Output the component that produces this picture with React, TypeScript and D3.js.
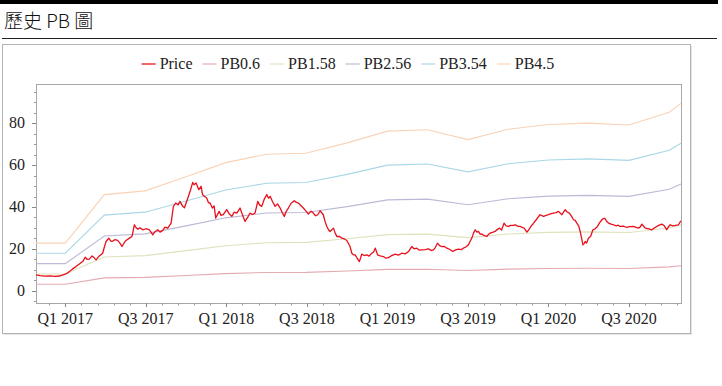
import React from "react";
import * as d3 from "d3";

// ---------- data ----------
const titleText = "歷史 PB 圖";
const seriesNames = ["Price", "PB0.6", "PB1.58", "PB2.56", "PB3.54", "PB4.5"];
const pbMultiples = [0.6, 1.58, 2.56, 3.54, 4.5];
const seriesColors = ["#e8101c", "#e4aab2", "#dfe2bd", "#babad6", "#a9d7e6", "#f8d3b7"];

// book value per share (quarterly breakpoints, decimal year)
const bvpsDates = [2016.818, 2017.0, 2017.242, 2017.495, 2017.75, 2017.996, 2018.25, 2018.493, 2018.75, 2019.0, 2019.25, 2019.5, 2019.75, 2020.0, 2020.25, 2020.5, 2020.75, 2020.823];
const bvpsValues = [5.05, 5.05, 10.2, 10.6, 12.1, 13.6, 14.5, 14.6, 15.7, 16.95, 17.1, 16.05, 17.15, 17.65, 17.8, 17.6, 18.95, 19.9];

// price (decimal year, value)
const priceDates = [
  2016.818, 2016.843, 2016.874, 2016.905, 2016.936, 2016.963, 2016.986, 2017.004, 2017.025, 2017.045,
  2017.066, 2017.085, 2017.108, 2017.124, 2017.135, 2017.149, 2017.166, 2017.178, 2017.191, 2017.211,
  2017.232, 2017.243, 2017.253, 2017.270, 2017.281, 2017.290, 2017.309, 2017.325, 2017.340, 2017.352,
  2017.365, 2017.377, 2017.398, 2017.414, 2017.429, 2017.439, 2017.450, 2017.464, 2017.481, 2017.501,
  2017.522, 2017.532, 2017.543, 2017.557, 2017.574, 2017.588, 2017.605, 2017.619, 2017.636, 2017.657,
  2017.671, 2017.686, 2017.701, 2017.712, 2017.729, 2017.740, 2017.750, 2017.762, 2017.775, 2017.791,
  2017.799, 2017.812, 2017.829, 2017.843, 2017.852, 2017.863, 2017.878, 2017.889, 2017.899, 2017.913,
  2017.924, 2017.934, 2017.955, 2017.967, 2017.981, 2018.002, 2018.017, 2018.034, 2018.048, 2018.065,
  2018.085, 2018.101, 2018.116, 2018.132, 2018.147, 2018.163, 2018.178, 2018.195, 2018.206, 2018.220,
  2018.234, 2018.251, 2018.262, 2018.272, 2018.287, 2018.303, 2018.318, 2018.334, 2018.346, 2018.360,
  2018.371, 2018.385, 2018.402, 2018.422, 2018.435, 2018.447, 2018.464, 2018.478, 2018.495, 2018.509,
  2018.526, 2018.540, 2018.554, 2018.568, 2018.582, 2018.602, 2018.613, 2018.624, 2018.635, 2018.644,
  2018.665, 2018.676, 2018.686, 2018.700, 2018.717, 2018.731, 2018.748, 2018.768, 2018.779, 2018.789,
  2018.800, 2018.812, 2018.826, 2018.841, 2018.855, 2018.872, 2018.886, 2018.903, 2018.914, 2018.925,
  2018.939, 2018.955, 2018.975, 2018.989, 2019.006, 2019.023, 2019.048, 2019.068, 2019.089, 2019.110,
  2019.131, 2019.151, 2019.166, 2019.182, 2019.197, 2019.214, 2019.234, 2019.255, 2019.272, 2019.286,
  2019.296, 2019.311, 2019.324, 2019.338, 2019.352, 2019.369, 2019.386, 2019.406, 2019.423, 2019.441,
  2019.458, 2019.472, 2019.489, 2019.503, 2019.513, 2019.524, 2019.535, 2019.545, 2019.556, 2019.565,
  2019.576, 2019.586, 2019.601, 2019.617, 2019.629, 2019.638, 2019.653, 2019.669, 2019.681, 2019.696,
  2019.709, 2019.724, 2019.737, 2019.752, 2019.765, 2019.783, 2019.793, 2019.812, 2019.825, 2019.837,
  2019.849, 2019.866, 2019.877, 2019.891, 2019.905, 2019.924, 2019.936, 2019.948, 2019.969, 2019.986,
  2020.000, 2020.017, 2020.031, 2020.048, 2020.062, 2020.083, 2020.104, 2020.116, 2020.130, 2020.144,
  2020.155, 2020.166, 2020.176, 2020.188, 2020.197, 2020.206, 2020.214, 2020.222, 2020.228, 2020.237,
  2020.248, 2020.262, 2020.276, 2020.290, 2020.304, 2020.318, 2020.332, 2020.343, 2020.352, 2020.361,
  2020.373, 2020.389, 2020.404, 2020.420, 2020.433, 2020.445, 2020.464, 2020.487, 2020.504, 2020.528,
  2020.545, 2020.559, 2020.570, 2020.580, 2020.591, 2020.601, 2020.619, 2020.642, 2020.657, 2020.673,
  2020.688, 2020.704, 2020.719, 2020.735, 2020.743, 2020.756, 2020.771, 2020.787, 2020.807, 2020.822,
];
const priceValues = [
  7.6, 7.2, 6.9, 7.1, 6.8, 7.0, 7.6, 8.0, 9.1, 10.4,
  11.5, 12.6, 13.9, 16.0, 15.0, 15.1, 16.6, 15.8, 14.7, 16.6,
  17.9, 21.0, 23.5, 25.1, 23.8, 23.5, 24.4, 24.0, 22.6, 21.1,
  22.8, 24.0, 25.1, 25.9, 31.5, 30.2, 29.4, 30.0, 29.1, 29.6,
  29.1, 28.0, 26.7, 28.2, 29.1, 28.0, 28.8, 30.4, 29.9, 32.3,
  40.3, 41.9, 41.0, 42.7, 40.3, 39.6, 41.9, 44.5, 47.5, 51.8,
  50.6, 51.5, 48.3, 49.9, 46.0, 45.1, 44.3, 42.0, 41.9, 39.5,
  40.5, 34.7, 37.9, 36.0, 36.3, 38.7, 36.8, 35.5, 37.5, 37.1,
  39.5, 36.0, 33.1, 35.0, 37.1, 36.4, 37.1, 42.7, 41.0, 40.3,
  43.5, 45.9, 44.2, 45.1, 42.5, 40.3, 41.5, 39.5, 37.5, 35.5,
  37.8, 39.5, 41.8, 43.0, 42.2, 41.9, 40.6, 39.5, 38.0, 36.6,
  38.0, 37.1, 35.8, 36.3, 38.2, 36.3, 33.0, 30.7, 29.0, 28.3,
  29.9, 27.5, 25.9, 26.0, 25.1, 24.8, 24.0, 21.1, 17.9, 17.1,
  17.1, 15.5, 13.9, 17.5, 16.8, 17.1, 16.5, 17.9, 18.5, 20.3,
  17.1, 16.6, 16.3, 15.6, 15.8, 16.6, 17.5, 17.0, 17.9, 17.6,
  18.7, 21.1, 20.0, 20.3, 19.4, 19.5, 19.6, 20.0, 19.2, 19.5,
  20.5, 22.7, 21.5, 21.1, 21.2, 20.3, 19.8, 18.7, 19.5, 19.9,
  19.6, 20.3, 21.0, 21.9, 23.5, 25.1, 27.5, 29.1, 28.0, 28.3,
  27.0, 27.1, 26.3, 25.9, 27.0, 27.5, 27.9, 28.3, 29.2, 29.9,
  29.0, 32.3, 31.0, 30.7, 31.2, 31.2, 31.5, 30.7, 30.7, 30.2,
  29.9, 28.0, 29.0, 30.7, 32.0, 33.9, 35.2, 36.3, 35.5, 36.0,
  36.3, 36.8, 37.1, 37.3, 37.9, 36.3, 38.7, 37.6, 37.1, 35.5,
  33.9, 33.6, 32.3, 31.0, 28.3, 25.0, 21.9, 22.5, 23.5, 22.8,
  25.1, 26.0, 29.1, 29.6, 30.7, 32.5, 33.9, 34.6, 34.4, 33.2,
  32.3, 31.8, 31.5, 31.0, 31.3, 30.7, 30.9, 30.2, 30.6, 30.7,
  30.3, 29.9, 30.5, 31.8, 30.8, 29.9, 29.6, 29.1, 30.0, 30.7,
  31.3, 31.8, 31.0, 29.1, 30.3, 31.5, 31.0, 31.2, 31.5, 33.4,
];

const xDomain = [2016.818, 2020.823];
const yDomain = [-5.9, 98.8];
const yTickValues = [0, 20, 40, 60, 80];
const xTickValues = [2017.0, 2017.5, 2018.0, 2018.5, 2019.0, 2019.5, 2020.0, 2020.5];
const xTickLabels = ["Q1 2017", "Q3 2017", "Q1 2018", "Q3 2018", "Q1 2019", "Q3 2019", "Q1 2020", "Q3 2020"];

// ---------- layout ----------
const W = 722;
const H = 386;
const plot = { left: 36, right: 681, top: 84, bottom: 303 };
const SERIF = "'Liberation Serif', 'Times New Roman', serif";

function measure(text: string, font: string): number {
  if (typeof document === "undefined") return text.length * 8;
  const c = document.createElement("canvas");
  const ctx = c.getContext("2d");
  if (!ctx) return text.length * 8;
  ctx.font = font;
  return ctx.measureText(text).width;
}

export default function App() {
  const x = d3.scaleLinear().domain(xDomain).range([plot.left, plot.right]);
  const y = d3.scaleLinear().domain(yDomain).range([plot.bottom, plot.top]);

  const line = d3
    .line<[number, number]>()
    .x((d) => x(d[0]))
    .y((d) => y(d[1]));

  const pricePts: [number, number][] = priceDates.map((t, i) => [t, priceValues[i]]);
  const pbPaths = pbMultiples.map((m) =>
    line(bvpsDates.map((t, i) => [t, bvpsValues[i] * m] as [number, number]))
  );

  const yMinor = d3.range(-5, 99, 5).filter((v) => !yTickValues.includes(v));
  const xMinor = d3
    .range(0, 40)
    .map((i) => 2016.9 + i * 0.1)
    .filter((t) => t <= xDomain[1] && !xTickValues.some((v) => Math.abs(v - t) < 1e-6));

  // legend layout
  const legendFont = `16px ${SERIF}`;
  const sw = 14;
  const gapText = 4;
  const gapItem = 10;
  const widths = seriesNames.map((n) => measure(n, legendFont));
  const total = widths.reduce((a, b) => a + b, 0) + seriesNames.length * (sw + gapText) + (seriesNames.length - 1) * gapItem;
  let cursor = 348 - total / 2;
  const legendItems = seriesNames.map((n, i) => {
    const x0 = cursor;
    cursor += sw + gapText + widths[i] + gapItem;
    return { n, x0, color: seriesColors[i] };
  });
  const legendY = 64;

  return (
    <svg
      width={W}
      height={H}
      style={{ position: "absolute", left: 0, top: 0, display: "block", background: "#fff" }}
    >
      {/* header */}
      <rect x={0} y={0} width={718} height={4} fill="#000" />
      <text
        x={4}
        y={28}
        fontFamily="'Noto Sans CJK TC', 'Noto Sans', sans-serif"
        fontSize={19}
        fontWeight={300}
        fill="#111"
      >
        {titleText}
      </text>
      <line x1={2} x2={717} y1={38.5} y2={38.5} stroke="#222" strokeWidth={1} />

      {/* outer frame */}
      <rect x={2.5} y={44.5} width={688} height={289} fill="#fff" stroke="#b4b4b4" strokeWidth={1} />
      <line x1={691.5} x2={691.5} y1={46} y2={335} stroke="#e4e4e4" />
      <line x1={4} x2={691.5} y1={334.5} y2={334.5} stroke="#e4e4e4" />

      {/* legend */}
      {legendItems.map((it) => (
        <g key={it.n}>
          <line
            x1={it.x0}
            x2={it.x0 + sw}
            y1={legendY}
            y2={legendY}
            stroke={it.color}
            strokeWidth={it.n === "Price" ? 1.3 : 1.2}
          />
          <text
            x={it.x0 + sw + gapText}
            y={legendY + 5}
            fontFamily={SERIF}
            fontSize={16}
            fill="#222"
          >
            {it.n}
          </text>
        </g>
      ))}

      {/* plot frame */}
      <rect
        x={plot.left + 0.5}
        y={plot.top + 0.5}
        width={plot.right - plot.left}
        height={plot.bottom - plot.top}
        fill="#fff"
        stroke="#a8a8a8"
        strokeWidth={1}
      />

      {/* y ticks */}
      {yTickValues.map((v) => (
        <g key={"y" + v}>
          <line x1={plot.left - 4} x2={plot.left} y1={Math.round(y(v)) + 0.5} y2={Math.round(y(v)) + 0.5} stroke="#888" />
          <text x={25} y={y(v) + 5} textAnchor="end" fontFamily={SERIF} fontSize={16} fill="#222">
            {v}
          </text>
        </g>
      ))}
      {yMinor.map((v) => (
        <line key={"ym" + v} x1={plot.left - 2} x2={plot.left} y1={Math.round(y(v)) + 0.5} y2={Math.round(y(v)) + 0.5} stroke="#999" />
      ))}

      {/* x ticks */}
      {xTickValues.map((t, i) => (
        <g key={"x" + t}>
          <line x1={Math.round(x(t)) + 0.5} x2={Math.round(x(t)) + 0.5} y1={plot.bottom} y2={plot.bottom + 4} stroke="#888" />
          <text x={x(t)} y={324} textAnchor="middle" fontFamily={SERIF} fontSize={16} fill="#222">
            {xTickLabels[i]}
          </text>
        </g>
      ))}
      {xMinor.map((t) => (
        <line key={"xm" + t.toFixed(2)} x1={Math.round(x(t)) + 0.5} x2={Math.round(x(t)) + 0.5} y1={plot.bottom} y2={plot.bottom + 2.5} stroke="#999" />
      ))}

      {/* series */}
      <g>
        {pbPaths.map((p, i) => (
          <path key={"pb" + i} d={p || ""} fill="none" stroke={seriesColors[i + 1]} strokeWidth={1.1} />
        ))}
        <path d={line(pricePts) || ""} fill="none" stroke={seriesColors[0]} strokeWidth={1.3} strokeLinejoin="round" />
      </g>
    </svg>
  );
}
